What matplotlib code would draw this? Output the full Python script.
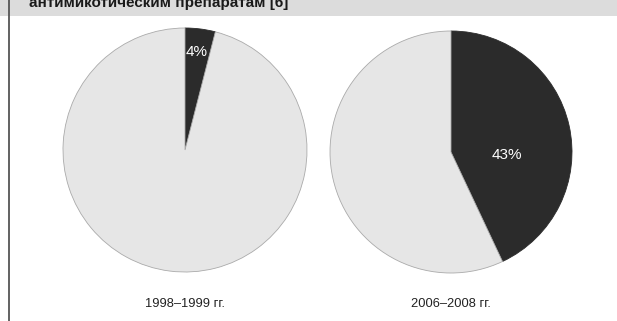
import matplotlib
matplotlib.use("Agg")
import matplotlib.pyplot as plt
from matplotlib.patches import Rectangle
from matplotlib.lines import Line2D

title = "антимикотическим препаратам [6]"
periods = ["1998–1999 гг.", "2006–2008 гг."]
resistant = [4, 43]
labels = ["4%", "43%"]

W, H = 617, 321
fig = plt.figure(figsize=(W / 100, H / 100), dpi=100)
fig.patch.set_facecolor("white")

# header band
fig.patches.append(Rectangle((0, 1 - 16 / H), 1, 16 / H, transform=fig.transFigure,
                             facecolor="#dcdcdc", edgecolor="none", zorder=0))
fig.text(29 / W, 1 - 7 / H, title, fontsize=11, fontweight="bold", color="#1a1a1a",
         ha="left", va="baseline", family="Liberation Sans")
fig.lines.append(Line2D([8.5 / W, 8.5 / W], [0, 1], transform=fig.transFigure,
                        color="#555555", lw=1.3))

centers = [(185, 150), (451, 152)]
radii = [122, 121]

for i, (cx, cy) in enumerate(centers):
    r = radii[i]
    ax = fig.add_axes([(cx - r) / W, 1 - (cy + r) / H, 2 * r / W, 2 * r / H])
    vals = [resistant[i], 100 - resistant[i]]
    wedges, _ = ax.pie(vals, colors=["#2b2b2b", "#e6e6e6"], startangle=90,
                       counterclock=False, radius=1.0,
                       wedgeprops=dict(edgecolor="#aaaaaa", linewidth=0.6))
    wedges[0].set_edgecolor("#2b2b2b")
    ax.set_xlim(-1, 1)
    ax.set_ylim(-1, 1)
    ax.set_aspect("auto")
    ax.axis("off")

fig.text(197 / W, 1 - 52 / H, labels[0], color="white", fontsize=11, ha="center", va="center",
         family="Liberation Sans")
fig.text(507 / W, 1 - 155 / H, labels[1], color="white", fontsize=11, ha="center", va="center",
         family="Liberation Sans")

fig.text(185 / W, 1 - 304 / H, periods[0], fontsize=9.3, ha="center", va="center", color="#222222",
         family="Liberation Sans")
fig.text(451 / W, 1 - 304 / H, periods[1], fontsize=9.3, ha="center", va="center", color="#222222",
         family="Liberation Sans")

fig.savefig("out.png", dpi=100)
